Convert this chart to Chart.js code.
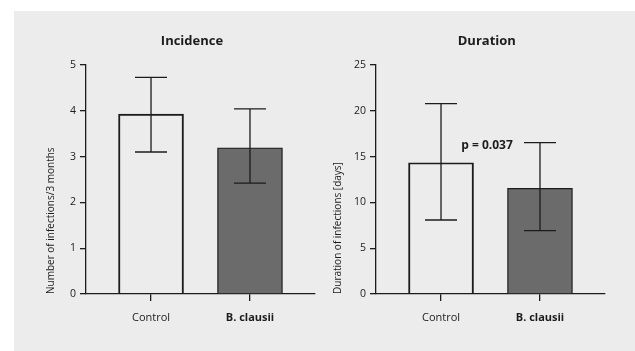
<!DOCTYPE html>
<html>
<head>
<meta charset="utf-8">
<script src="https://cdn.jsdelivr.net/npm/chart.js@4.4.1/dist/chart.umd.min.js"></script>
<style>
  html, body { margin: 0; padding: 0; background: #fff; overflow: hidden; }
  body { width: 635px; height: 351px; position: relative; }
  #panel { position: absolute; left: 14px; top: 11px; width: 621px; height: 340px; background: #ececec; }
  canvas { position: absolute; top: 0; }
  #incidence { left: 0; }
  #duration { left: 303px; }
</style>
</head>
<body>
<div id="panel">
  <canvas id="incidence" width="303" height="340"></canvas>
  <canvas id="duration" width="318" height="340"></canvas>
</div>
<script>
const categories = ['Control', 'B. clausii'];

// incidence: mean with lower/upper error limits
const incidenceMean = [3.93, 3.19];
const incidenceLow = [3.10, 2.42];
const incidenceHigh = [4.73, 4.04];

// duration in days
const durationMean = [14.33, 11.54];
const durationLow = [8.08, 6.91];
const durationHigh = [20.78, 16.52];

const barFills = ['rgba(0,0,0,0)', '#6b6b6b'];

const FONT = "'Open Sans', sans-serif";
const INK = '#1c1c1c';

const errorBars = {
    id: 'errorBars',
    afterDatasetsDraw(chart, args, opts) {
        const { ctx, scales: { x, y } } = chart;
        ctx.save();
        ctx.strokeStyle = INK;
        ctx.lineWidth = 1.3;
        opts.low.forEach((lo, i) => {
            const px = x.getPixelForValue(i);
            const top = y.getPixelForValue(opts.high[i]);
            const bot = y.getPixelForValue(lo);
            ctx.beginPath();
            ctx.moveTo(px, top); ctx.lineTo(px, bot);
            ctx.moveTo(px - opts.cap, top); ctx.lineTo(px + opts.cap, top);
            ctx.moveTo(px - opts.cap, bot); ctx.lineTo(px + opts.cap, bot);
            ctx.stroke();
        });
        ctx.restore();
    }
};

const panelText = {
    id: 'panelText',
    afterDraw(chart, args, opts) {
        const { ctx, chartArea, scales: { x, y } } = chart;
        ctx.save();
        ctx.fillStyle = INK;
        ctx.textAlign = 'center';
        ctx.textBaseline = 'middle';
        ctx.font = `bold 13px ${FONT}`;
        ctx.fillText(opts.title, (chartArea.left + chartArea.right) / 2 + opts.shift, chartArea.top - 24);
        if (opts.note) {
            ctx.font = `bold 12px ${FONT}`;
            ctx.fillText(opts.note.text, x.getPixelForValue(opts.note.x), y.getPixelForValue(opts.note.y));
        }
        ctx.restore();
    }
};

const makeChart = (id, cfg) => {
    const el = document.getElementById(id);
    return new Chart(el, {
        type: 'bar',
        data: {
            datasets: [{
                data: categories.map((c, i) => ({ x: i, y: cfg.mean[i] })),
                backgroundColor: barFills,
                borderColor: INK,
                borderWidth: 1.3,
                barThickness: 65
            }]
        },
        plugins: [errorBars, panelText],
        options: {
            responsive: false,
            animation: false,
            layout: { padding: { top: 54, right: cfg.padRight, left: 0, bottom: 0 } },
            plugins: {
                legend: { display: false },
                tooltip: { enabled: false },
                errorBars: { low: cfg.low, high: cfg.high, cap: 16 },
                panelText: { title: cfg.title, shift: cfg.titleShift, note: cfg.note }
            },
            scales: {
                x: {
                    type: 'linear',
                    offset: false,
                    min: -0.657,
                    max: 1.657,
                    afterBuildTicks: s => { s.ticks = categories.map((c, i) => ({ value: i })); },
                    afterFit: s => { s.height = 57; },
                    grid: { offset: false, drawOnChartArea: false, drawTicks: true, tickLength: 7, color: INK, lineWidth: 1.3 },
                    border: { color: INK, width: 1.3 },
                    ticks: {
                        padding: 10,
                        color: INK,
                        maxRotation: 0,
                        autoSkip: false,
                        callback: v => categories[v],
                        font: c => ({ family: FONT, size: 11, weight: c.index === 1 ? 'bold' : 'normal' })
                    }
                },
                y: {
                    min: 0,
                    max: cfg.yMax,
                    afterFit: s => { s.width = cfg.yWidth; },
                    grid: { drawOnChartArea: false, drawTicks: true, tickLength: 6, color: INK, lineWidth: 1.3 },
                    border: { color: INK, width: 1.3 },
                    ticks: { stepSize: cfg.step, padding: 4, color: INK, font: { family: FONT, size: 10.5 } },
                    title: {
                        display: true,
                        text: cfg.yTitle,
                        align: 'start',
                        color: INK,
                        font: { family: FONT, size: 10 },
                        padding: { top: cfg.titlePad, bottom: 0 }
                    }
                }
            }
        }
    });
};

makeChart('incidence', {
    mean: incidenceMean, low: incidenceLow, high: incidenceHigh,
    yMax: 5, step: 1, yWidth: 72, padRight: 2, titlePad: 31,
    yTitle: 'Number of infections/3 months',
    title: 'Incidence', titleShift: -8.5
});

makeChart('duration', {
    mean: durationMean, low: durationLow, high: durationHigh,
    yMax: 25, step: 5, yWidth: 59, padRight: 30, titlePad: 14.7,
    yTitle: 'Duration of infections [days]',
    title: 'Duration', titleShift: -3.7,
    note: { text: 'p = 0.037', x: 0.465, y: 16.2 }
});
</script>
</body>
</html>
